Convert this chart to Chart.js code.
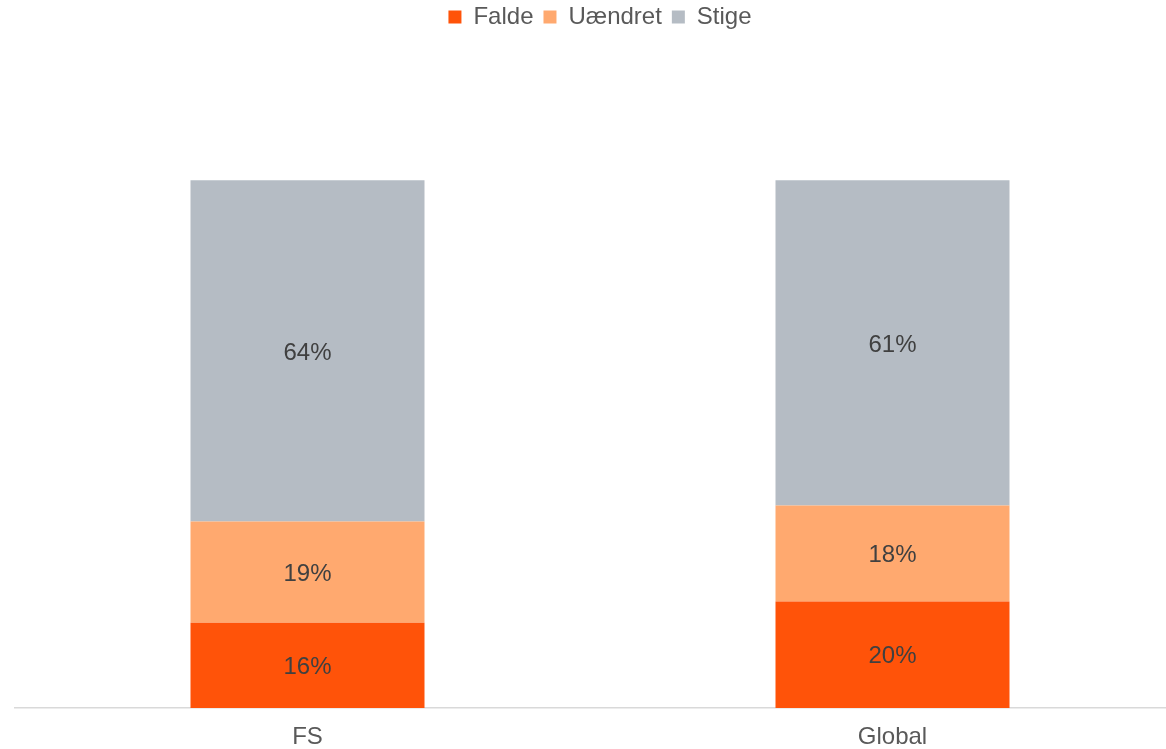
<!DOCTYPE html>
<html>
<head>
<meta charset="utf-8">
<script src="https://cdn.jsdelivr.net/npm/chart.js@4/dist/chart.umd.min.js"></script>
<style>
html,body{margin:0;padding:0;overflow:hidden;background:#fff;}
#wrap{width:1208px;height:749px;position:relative;}
</style>
</head>
<body>
<div id="wrap"><canvas id="c"></canvas></div>
<script>
const categories = ["FS", "Global"];
const falde = [16, 20];
const uaendret = [19, 18];
const stige = [64, 61];
const seriesNames = ["Falde", "Uændret", "Stige"];
const seriesColors = ["#FF5309", "#FFA96F", "#B5BCC4"];

const FONT = "'Liberation Sans', Arial, sans-serif";

const barLabels = {
  id: 'barLabels',
  afterDatasetsDraw(chart) {
    const ctx = chart.ctx;
    ctx.save();
    ctx.font = "24px " + FONT;
    ctx.fillStyle = "#404040";
    ctx.textAlign = "center";
    ctx.textBaseline = "middle";
    chart.data.datasets.forEach((ds, di) => {
      const meta = chart.getDatasetMeta(di);
      meta.data.forEach((bar, i) => {
        const y = (bar.y + bar.base) / 2;
        ctx.fillText(ds.data[i] + "%", bar.x, y + 2);
      });
    });
    ctx.restore();
  }
};

const legendHeight = {
  id: 'legendHeight',
  beforeInit(chart) {
    const orig = chart.legend.fit;
    chart.legend.fit = function () {
      orig.bind(chart.legend)();
      this.height = 180;
    };
  }
};

new Chart(document.getElementById('c'), {
  type: 'bar',
  data: {
    labels: categories,
    datasets: [
      { label: seriesNames[0], data: falde, backgroundColor: seriesColors[0] },
      { label: seriesNames[1], data: uaendret, backgroundColor: seriesColors[1] },
      { label: seriesNames[2], data: stige, backgroundColor: seriesColors[2] }
    ]
  },
  options: {
    responsive: true,
    maintainAspectRatio: false,
    animation: false,
    layout: { padding: { left: 15, right: 23, top: -5, bottom: 0 } },
    datasets: { bar: { categoryPercentage: 1.0, barPercentage: 0.4 } },
    scales: {
      x: {
        stacked: true,
        grid: { display: false, drawTicks: false },
        border: { display: true, color: "#D9D9D9", width: 1.5 },
        ticks: { color: "#595959", font: { family: FONT, size: 24 }, padding: 15 },
        afterFit(scale) { scale.height = 41; }
      },
      y: {
        stacked: true,
        display: false,
        min: 0,
        max: 100
      }
    },
    plugins: {
      tooltip: { enabled: false },
      legend: {
        position: 'top',
        align: 'center',
        labels: {
          color: "#595959",
          font: { family: FONT, size: 24 },
          boxWidth: 13,
          boxHeight: 13,
          padding: 10
        }
      }
    }
  },
  plugins: [barLabels, legendHeight]
});
</script>
</body>
</html>
